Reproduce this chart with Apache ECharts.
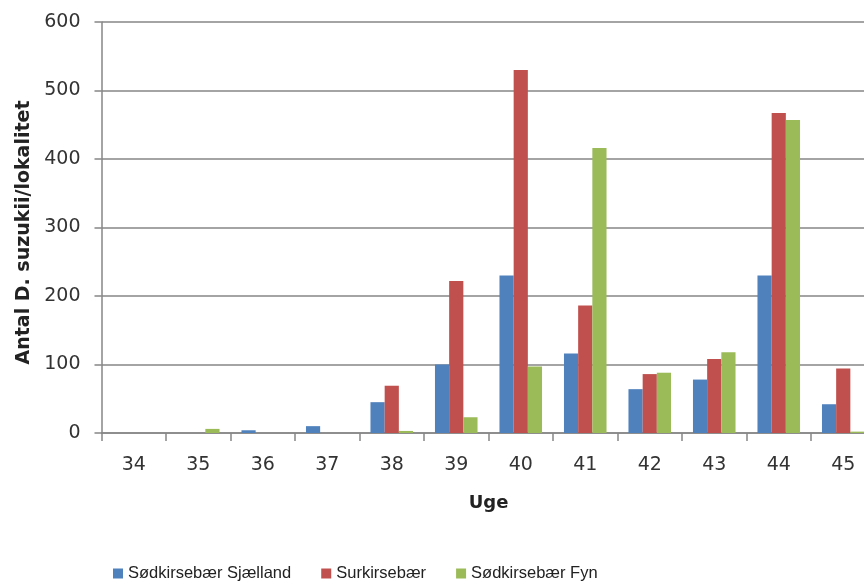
<!DOCTYPE html>
<html>
<head>
<meta charset="utf-8">
<script src="https://cdn.jsdelivr.net/npm/echarts@6/dist/echarts.min.js"></script>
<style>
  html, body { margin: 0; padding: 0; background: #fff; overflow: hidden; }
  /* plot area runs past the right edge in the original, so the canvas is a bit wider than the window */
  #chart { width: 884px; height: 583px; }
</style>
</head>
<body>
<div id="chart"></div>
<script>
// uger
const weeks = ['34', '35', '36', '37', '38', '39', '40', '41', '42', '43', '44', '45']
const yTicks = [0, 100, 200, 300, 400, 500, 600]

const soedSjaelland = [0, 0, 4, 10, 45, 100, 230, 116, 64, 78, 230, 42]
const surkirsebaer = [0, 0, 0, 0, 69, 222, 530, 186, 86, 108, 467, 94]
const soedFyn = [0, 6, 0, 0, 3, 23, 97, 416, 88, 118, 457, 2]

const seriesNames = ['Sødkirsebær Sjælland', 'Surkirsebær', 'Sødkirsebær Fyn']
const colors = ['#4F81BD', '#C0504D', '#9BBB59']

let chart = echarts.init(document.getElementById('chart'))

const gridColor = '#868686'

let option = {
  animation: false,
  backgroundColor: '#fff',
  textStyle: {
    fontFamily: 'DejaVu Sans'
  },
  grid: {
    left: 101.5,
    top: 22,
    bottom: 150,
    width: 774
  },
  legend: {
    data: seriesNames,
    left: 108,
    top: 560,
    itemWidth: 10,
    itemHeight: 10,
    itemGap: 30,
    icon: 'rect',
    textStyle: {
      fontSize: 16.5,
      color: '#222',
      fontFamily: 'Liberation Sans'
    }
  },
  xAxis: {
    type: 'category',
    data: weeks,
    name: 'Uge',
    nameLocation: 'middle',
    nameGap: 61,
    nameTextStyle: {
      fontSize: 18,
      fontWeight: 'bold',
      color: '#222'
    },
    axisLine: { lineStyle: { color: gridColor, width: 1.5 } },
    axisTick: { show: true, length: 8, lineStyle: { color: gridColor, width: 1.5 } },
    axisLabel: { fontSize: 19, color: '#333', margin: 23 }
  },
  yAxis: {
    type: 'value',
    min: yTicks[0],
    max: yTicks[yTicks.length - 1],
    interval: 100,
    name: 'Antal D. suzukii/lokalitet',
    nameLocation: 'middle',
    nameGap: 68,
    nameTextStyle: {
      fontSize: 19,
      fontWeight: 'bold',
      color: '#222',
      padding: [0, 10, 0, 0]
    },
    axisLine: { show: true, lineStyle: { color: gridColor, width: 1.5 } },
    axisTick: { show: true, length: 7, lineStyle: { color: gridColor, width: 1.5 } },
    axisLabel: { fontSize: 19, color: '#333', margin: 21 },
    splitLine: { show: true, lineStyle: { color: gridColor, width: 1.5 } }
  },
  series: [
    { name: seriesNames[0], type: 'bar', data: soedSjaelland, itemStyle: { color: colors[0] }, barGap: '0%', barCategoryGap: '34%' },
    { name: seriesNames[1], type: 'bar', data: surkirsebaer, itemStyle: { color: colors[1] } },
    { name: seriesNames[2], type: 'bar', data: soedFyn, itemStyle: { color: colors[2] } }
  ]
}

chart.setOption(option)
</script>
</body>
</html>
